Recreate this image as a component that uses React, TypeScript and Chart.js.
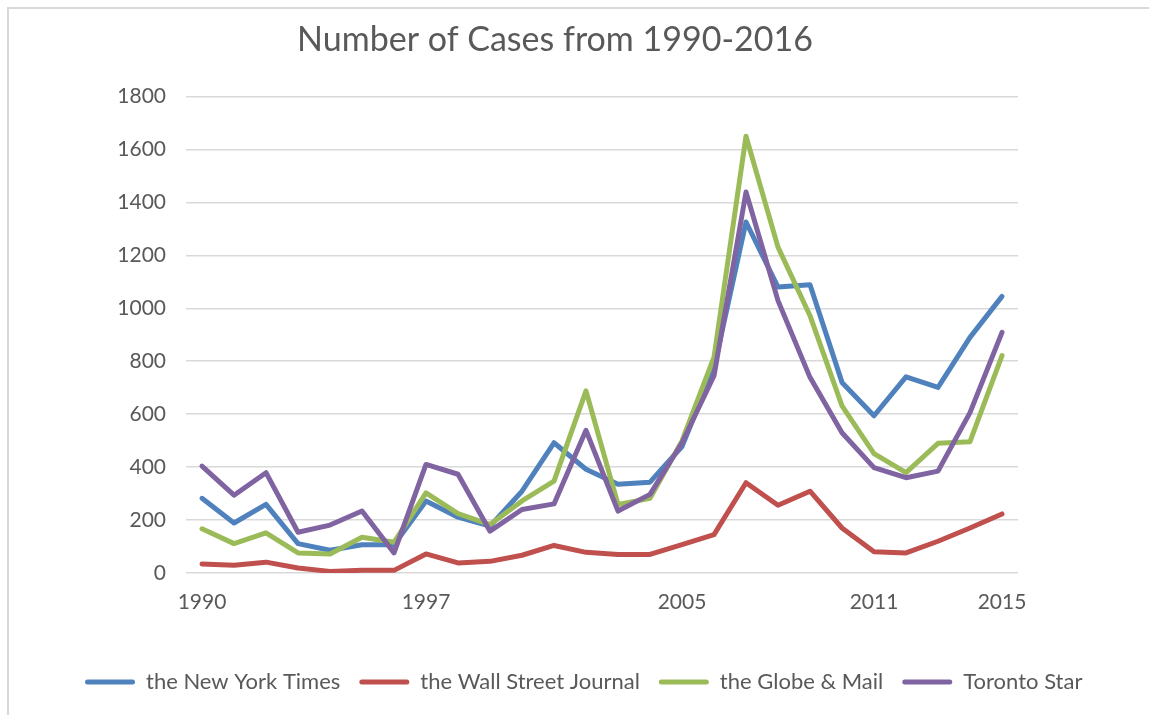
import React, { useEffect, useRef } from "react";
import { Chart, registerables } from "chart.js";

Chart.register(...registerables);

const FONT = 'Lato, "Open Sans", "DejaVu Sans", sans-serif';
const TEXT_COLOR = "#595959";

const years = [
  "1990", "1991", "1992", "1993", "1994", "1995", "1996", "1997", "1998", "1999",
  "2000", "2001", "2002", "2003", "2004", "2005", "2006", "2007", "2008", "2009",
  "2010", "2011", "2012", "2013", "2014", "2015",
];
const shownYears = ["1990", "1997", "2005", "2011", "2015"];
const yTicks = [0, 200, 400, 600, 800, 1000, 1200, 1400, 1600, 1800];

const nytValues = [282, 189, 259, 111, 86, 107, 107, 272, 211, 177, 309, 492, 392, 335, 343, 478, 775, 1326, 1080, 1089, 720, 594, 741, 701, 890, 1045];
const wsjValues = [34, 29, 41, 19, 6, 10, 10, 72, 38, 44, 67, 104, 78, 70, 70, 107, 145, 341, 256, 309, 170, 80, 76, 120, 170, 223];
const globeValues = [167, 111, 152, 76, 72, 135, 116, 303, 224, 183, 272, 347, 688, 259, 282, 499, 815, 1650, 1231, 972, 631, 451, 379, 490, 496, 821];
const torontoValues = [404, 294, 379, 154, 181, 234, 76, 410, 373, 158, 240, 261, 539, 234, 297, 492, 745, 1439, 1029, 739, 530, 398, 360, 385, 606, 909];

const seriesNames = ["the New York Times", "the Wall Street Journal", "the Globe & Mail", "Toronto Star"];
const seriesColors = ["#4F81BD", "#C0504D", "#9BBB59", "#8064A2"];

// Title in the reference is centred a little left of the canvas centre.
const TITLE_CENTER_X = 546;

const titleShift = {
  id: "titleShift",
  afterLayout(chart: any) {
    const t = chart.titleBlock;
    if (t) {
      t.left = 0;
      t.right = TITLE_CENTER_X * 2;
    }
  },
};

export default function App() {
  const ref = useRef<HTMLCanvasElement>(null);

  useEffect(() => {
    const values = [nytValues, wsjValues, globeValues, torontoValues];
    const chart = new Chart(ref.current as HTMLCanvasElement, {
      type: "line",
      data: {
        labels: years,
        datasets: seriesNames.map((name, i) => ({
          label: name,
          data: values[i],
          borderColor: seriesColors[i],
          backgroundColor: seriesColors[i],
          borderWidth: 5,
          pointRadius: 0,
          pointHoverRadius: 0,
          tension: 0,
          fill: false,
          borderCapStyle: "round",
          borderJoinStyle: "round",
          order: 3 - i,
          yAxisID: "y",
        })),
      },
      options: {
        animation: false,
        responsive: false,
        layout: { padding: { left: 57, right: 0, top: 0, bottom: 12 } },
        plugins: {
          title: {
            display: true,
            text: "Number of Cases from 1990-2016",
            color: TEXT_COLOR,
            font: { family: FONT, size: 34, weight: "normal" },
            padding: { top: 11, bottom: 35.7 },
          },
          legend: {
            position: "bottom",
            align: "start",
            labels: {
              font: { family: FONT, size: 22 },
              color: TEXT_COLOR,
              boxWidth: 50,
              boxHeight: 5,
              padding: 19,
              generateLabels: (c: any) =>
                c.data.datasets.map((ds: any, i: number) => ({
                  text: ds.label,
                  fillStyle: ds.borderColor,
                  strokeStyle: ds.borderColor,
                  lineWidth: 0,
                  hidden: false,
                  datasetIndex: i,
                  borderRadius: 2.5,
                  fontColor: TEXT_COLOR,
                })),
            },
          },
          tooltip: { enabled: false },
        },
        scales: {
          x: {
            offset: true,
            grid: { display: false, drawTicks: false },
            border: { display: false },
            ticks: {
              autoSkip: false,
              maxRotation: 0,
              minRotation: 0,
              padding: 17,
              color: TEXT_COLOR,
              font: { family: FONT, size: 21 },
              callback: function (this: any, value: any) {
                const l = this.getLabelForValue(value);
                return shownYears.includes(l) ? l : "";
              },
            },
            afterFit: (s: any) => {
              s.height = 79;
            },
          },
          y: {
            position: "left",
            min: 0,
            max: 1800,
            grid: { color: "#D9D9D9", lineWidth: 1.5, drawTicks: false },
            border: { display: false },
            ticks: {
              padding: 20,
              color: TEXT_COLOR,
              font: { family: FONT, size: 21 },
              callback: (v: any) => String(v),
            },
            afterBuildTicks: (s: any) => {
              s.ticks = yTicks.map((v) => ({ value: v }));
            },
            afterFit: (s: any) => {
              s.width = 120;
            },
          },
          yRight: {
            position: "right",
            display: true,
            grid: { display: false, drawTicks: false },
            border: { display: false },
            ticks: { display: false },
            afterFit: (s: any) => {
              s.width = 131;
            },
          },
        },
      } as any,
      plugins: [titleShift],
    });
    return () => chart.destroy();
  }, []);

  return (
    <div
      style={{
        position: "absolute",
        left: 7,
        top: 7,
        width: 1142,
        height: 708,
        boxSizing: "border-box",
        borderTop: "2px solid #D9D9D9",
        borderLeft: "2px solid #D9D9D9",
        background: "#FFFFFF",
      }}
    >
      <canvas ref={ref} width={1140} height={706} style={{ display: "block", width: 1140, height: 706 }} />
    </div>
  );
}
